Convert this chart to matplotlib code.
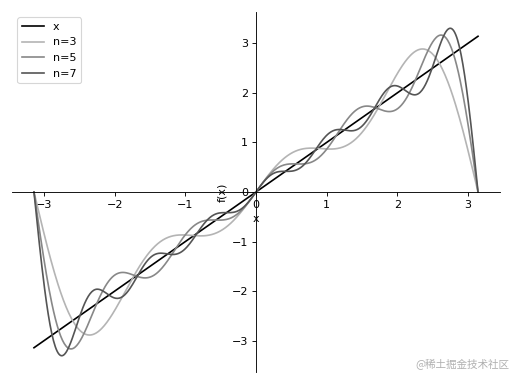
import matplotlib
matplotlib.use("Agg")
import numpy as np
import matplotlib.pyplot as plt

# number of Fourier terms for each partial sum of f(x) = x on [-pi, pi]
n_terms = [3, 5, 7]
term_colors = ["#b4b4b4", "#888888", "#555555"]
x_ticks = [-3, -2, -1, 0, 1, 2, 3]
y_ticks = [-3, -2, -1, 0, 1, 2, 3]
watermark = "@稀土掘金技术社区"


def fourier_sum(x, n):
    s = np.zeros_like(x)
    for k in range(1, n + 1):
        s += 2 * (-1) ** (k + 1) * np.sin(k * x) / k
    return s


x = np.linspace(-np.pi, np.pi, 500)

fig, ax = plt.subplots(figsize=(6.4, 4.8), dpi=80)
fig.subplots_adjust(left=0.023, right=0.977, top=0.969, bottom=0.031)

ax.plot(x, x, color="black", lw=1.5, label="x")
for n, c in zip(n_terms, term_colors):
    ax.plot(x, fourier_sum(x, n), color=c, lw=1.5, label="n=%d" % n)

ax.spines["left"].set_position("zero")
ax.spines["bottom"].set_position("zero")
ax.spines["right"].set_visible(False)
ax.spines["top"].set_visible(False)
ax.set_xticks(x_ticks)
ax.set_yticks(y_ticks)
ax.set_xlabel("x")
ax.set_ylabel("f(x)")
ax.legend(loc="upper left")

fig.text(0.995, 0.035, watermark, ha="right", va="bottom", fontsize=9.5,
         color="#b0b0b0", family=["Noto Sans CJK SC", "DejaVu Sans"])

plt.savefig("out.png", dpi=80)
